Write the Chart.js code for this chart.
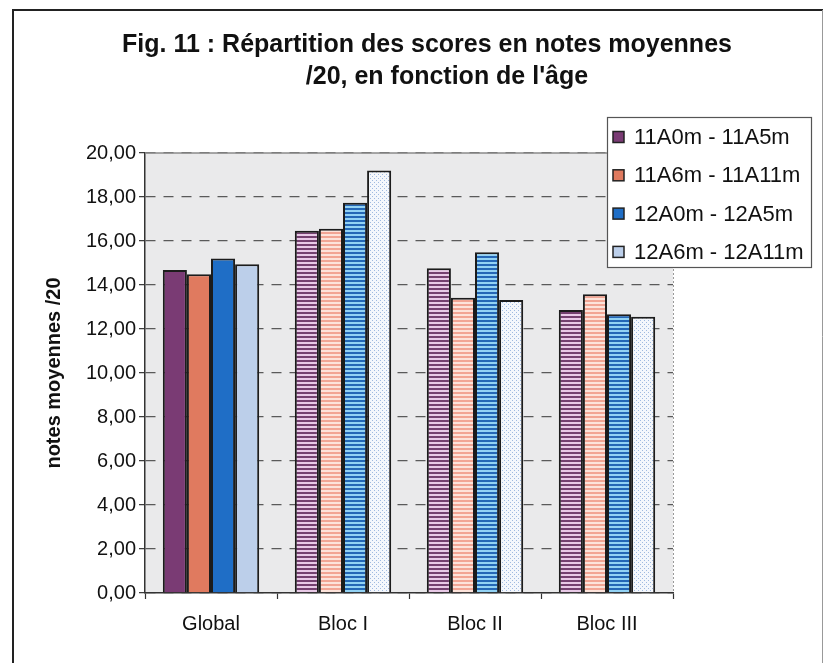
<!DOCTYPE html>
<html><head><meta charset="utf-8">
<script src="https://cdn.jsdelivr.net/npm/chart.js@4.4.1/dist/chart.umd.min.js"></script>
<style>html,body{margin:0;padding:0;background:#fff;overflow:hidden}</style>
</head><body>
<canvas id="c" width="824" height="663"></canvas>
<script>
// ---- data ----
const categories = ['Global', 'Bloc I', 'Bloc II', 'Bloc III'];
const seriesLabels = ['11A0m - 11A5m', '11A6m - 11A11m', '12A0m - 12A5m', '12A6m - 12A11m'];
const s11A0m = [14.68, 16.47, 14.76, 12.86];
const s11A6m = [14.49, 16.56, 13.42, 13.58];
const s12A0m = [15.21, 17.74, 15.49, 12.67];
const s12A6m = [14.94, 19.20, 13.32, 12.56];
const yTickValues = [0, 2, 4, 6, 8, 10, 12, 14, 16, 18, 20];
const titleLines = ['Fig. 11 : Répartition des scores en notes moyennes', "/20, en fonction de l'âge"];
const yAxisTitle = 'notes moyennes /20';

const FONT = "'Liberation Sans', Arial, sans-serif";

function stripes(dark, light) {
  const c = document.createElement('canvas'); c.width = 4; c.height = 4;
  const g = c.getContext('2d');
  g.fillStyle = light; g.fillRect(0, 0, 4, 4);
  g.fillStyle = dark; g.fillRect(0, 0, 4, 2);
  return g.createPattern(c, 'repeat');
}
function dots(bg, dot) {
  const c = document.createElement('canvas'); c.width = 4; c.height = 4;
  const g = c.getContext('2d');
  g.fillStyle = bg; g.fillRect(0, 0, 4, 4);
  g.fillStyle = dot; g.fillRect(0, 0, 1, 1); g.fillRect(2, 2, 1, 1);
  return g.createPattern(c, 'repeat');
}
const solid = ['#7a3b74', '#e07a5f', '#1f6ec6', '#bccfea'];
const fills = [
  [solid[0], ...Array(3).fill(stripes('#74406f', '#e8c9e6'))],
  [solid[1], ...Array(3).fill(stripes('#f2a594', '#fde3da'))],
  [solid[2], ...Array(3).fill(stripes('#2467b6', '#92d2f4'))],
  [solid[3], ...Array(3).fill(dots('#f4f7fc', '#a0bae0'))]
];
const seriesData = [s11A0m, s11A6m, s12A0m, s12A6m];

const fmt = v => Number(v).toFixed(2).replace('.', ',');

const framePlugin = {
  id: 'frame',
  beforeDraw(chart) {
    const {ctx, chartArea: a} = chart;
    ctx.save();
    ctx.fillStyle = '#fff'; ctx.fillRect(0, 0, chart.width, chart.height);
    ctx.fillStyle = '#eaeaeb'; ctx.fillRect(a.left, a.top, a.right - a.left, a.bottom - a.top);
    ctx.restore();
  },
  afterDraw(chart) {
    const {ctx, chartArea: a} = chart;
    ctx.save();
    // outer frame
    ctx.strokeStyle = '#222'; ctx.lineWidth = 2;
    ctx.beginPath(); ctx.moveTo(13, 663); ctx.lineTo(13, 10); ctx.lineTo(823, 10); ctx.stroke();
    ctx.strokeStyle = '#999'; ctx.lineWidth = 1;
    ctx.beginPath(); ctx.moveTo(822.5, 10); ctx.lineTo(822.5, 663); ctx.stroke();
    // plot top and right border
    ctx.strokeStyle = '#8a8a8a'; ctx.lineWidth = 1.5;
    ctx.beginPath(); ctx.moveTo(a.left, a.top); ctx.lineTo(a.right, a.top); ctx.stroke();
    ctx.setLineDash([2, 2]); ctx.strokeStyle = '#999'; ctx.lineWidth = 1;
    ctx.beginPath(); ctx.moveTo(a.right + 0.5, a.top); ctx.lineTo(a.right + 0.5, a.bottom); ctx.stroke();
    ctx.setLineDash([]);
    // title
    ctx.fillStyle = '#111'; ctx.textAlign = 'center'; ctx.textBaseline = 'middle';
    ctx.font = 'bold 25px ' + FONT;
    ctx.fillText(titleLines[0], 427, 45);
    ctx.fillText(titleLines[1], 447, 77);
    // legend
    const lx = 607, ly = 117, lw = 204, lh = 150;
    ctx.fillStyle = '#fff'; ctx.fillRect(lx, ly, lw, lh);
    ctx.strokeStyle = '#555'; ctx.lineWidth = 1.2; ctx.strokeRect(lx + 0.5, ly + 0.5, lw, lh);
    ctx.font = '22px ' + FONT; ctx.textAlign = 'left';
    chart.data.datasets.forEach((ds, i) => {
      const cy = 137 + i * 38.3;
      ctx.fillStyle = solid[i]; ctx.fillRect(613, cy - 5.5, 11, 11);
      ctx.strokeStyle = '#222'; ctx.lineWidth = 1.5; ctx.strokeRect(613, cy - 5.5, 11, 11);
      ctx.fillStyle = '#111'; ctx.fillText(ds.label, 634, cy + 1);
    });
    ctx.restore();
  }
};

new Chart(document.getElementById('c'), {
  type: 'bar',
  data: {
    labels: categories,
    datasets: seriesData.map((d, i) => ({
      label: seriesLabels[i],
      data: d,
      backgroundColor: fills[i],
      borderColor: '#1c1c1c',
      borderWidth: 2,
      borderSkipped: 'bottom',
      categoryPercentage: 0.73,
      barPercentage: 1.0
    }))
  },
  options: {
    responsive: false,
    animation: false,
    devicePixelRatio: 1,
    layout: {padding: {left: 0, right: 151, top: 153, bottom: 20}},
    plugins: {legend: {display: false}, title: {display: false}, tooltip: {enabled: false}},
    scales: {
      x: {
        ticks: {font: {family: FONT, size: 20}, color: '#111', padding: 13},
        grid: {display: true, drawOnChartArea: false, drawTicks: true, tickLength: 6, tickColor: '#333', tickWidth: 1.2, offset: true},
        border: {display: true, color: '#333', width: 1.5},
        afterFit(s) { s.height = 50; }
      },
      y: {
        min: 0, max: 20,
        afterBuildTicks(s) { s.ticks = yTickValues.map(v => ({value: v})); },
        ticks: {font: {family: FONT, size: 20}, color: '#111', padding: 3, callback: v => fmt(v)},
        grid: {color: '#5a5a5a', lineWidth: 1.3, tickLength: 6, tickColor: '#333', tickWidth: 1.2, tickBorderDash: []},
        border: {display: true, color: '#333', width: 1.5, dash: [10, 8]},
        title: {display: true, text: yAxisTitle, font: {family: FONT, size: 20, weight: 'bold'}, color: '#111', padding: {top: 42, bottom: 0}},
        afterFit(s) { s.width = 145; }
      }
    }
  },
  plugins: [framePlugin]
});
</script>
</body></html>
